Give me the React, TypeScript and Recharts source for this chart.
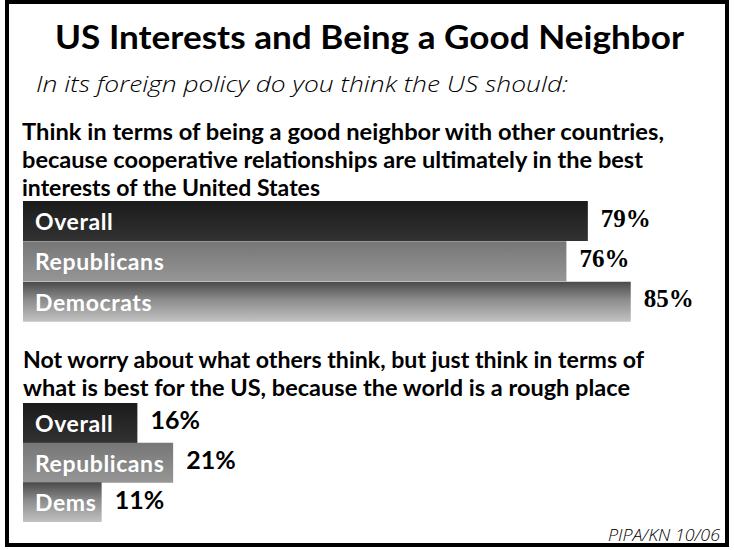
import React from "react";
import { BarChart, Bar, XAxis, YAxis, Cell, LabelList } from "recharts";

const TITLE = "US Interests and Being a Good Neighbor";
const SUBTITLE = "In its foreign policy do you think the US should:";
const QUESTION1 = [
  "Think in terms of being a good neighbor with other countries,",
  "because cooperative relationships are ultimately in the best",
  "interests of the United States",
];
const QUESTION2 = [
  "Not worry about what others think, but just think in terms of",
  "what is best for the US, because the world is a rough place",
];
const SOURCE = "PIPA/KN 10/06";

const groups1 = ["Overall", "Republicans", "Democrats"];
const goodNeighbor = [79, 76, 85];
const groups2 = ["Overall", "Republicans", "Dems"];
const notWorry = [16, 21, 11];

const SANS = "Lato, 'Open Sans', sans-serif";
const SANS2 = "'Open Sans', Lato, sans-serif";
const SERIF = "'Liberation Serif', 'DejaVu Serif', serif";

const Q1_WIDTHS = [642, 621, 298];
const Q2_WIDTHS = [621, 607];

const data1 = groups1.map((name, i) => ({ name, value: goodNeighbor[i] }));
const data2 = groups2.map((name, i) => ({ name, value: notWorry[i] }));

const Gradients = ({ prefix }: { prefix: string }) => (
  <defs>
    <linearGradient id={`${prefix}-dark`} x1="0" y1="0" x2="0" y2="1">
      <stop offset="0%" stopColor="#1b1b1b" />
      <stop offset="100%" stopColor="#323232" />
    </linearGradient>
    <linearGradient id={`${prefix}-mid`} x1="0" y1="0" x2="0" y2="1">
      <stop offset="0%" stopColor="#767676" />
      <stop offset="100%" stopColor="#969696" />
    </linearGradient>
    <linearGradient id={`${prefix}-light`} x1="0" y1="0" x2="0" y2="1">
      <stop offset="0%" stopColor="#4a4a4a" />
      <stop offset="45%" stopColor="#8c8c8c" />
      <stop offset="100%" stopColor="#c2c2c2" />
    </linearGradient>
  </defs>
);

const nameLabel = (props: any) => {
  const { x, y, height, value } = props;
  return (
    <text
      x={x + 12}
      y={y + height / 2 + 3}
      dominantBaseline="middle"
      fill="#ffffff"
      fontFamily={SANS}
      fontWeight={700}
      fontSize={23}
      letterSpacing={0.6}
    >
      {value}
    </text>
  );
};

const makeValueLabel = (family: string, size: number) => (props: any) => {
  const { x, y, width, height, value } = props;
  return (
    <text
      x={x + width + 13}
      y={y + height / 2}
      dominantBaseline="middle"
      fill="#000000"
      fontFamily={family}
      fontWeight={700}
      fontSize={size}
    >
      {`${value}%`}
    </text>
  );
};

const GroupChart = ({
  data,
  prefix,
  height,
  valueFamily,
  valueSize,
}: {
  data: { name: string; value: number }[];
  prefix: string;
  height: number;
  valueFamily: string;
  valueSize: number;
}) => {
  const fills = [`url(#${prefix}-dark)`, `url(#${prefix}-mid)`, `url(#${prefix}-light)`];
  return (
    <BarChart
      width={738}
      height={height}
      data={data}
      layout="vertical"
      margin={{ top: 0, right: 0, bottom: 0, left: 23 }}
      barCategoryGap={0}
    >
      <Gradients prefix={prefix} />
      <XAxis type="number" domain={[0, 100]} hide />
      <YAxis type="category" dataKey="name" hide />
      <Bar dataKey="value" isAnimationActive={false}>
        {data.map((d, i) => (
          <Cell key={d.name} fill={fills[i]} />
        ))}
        <LabelList dataKey="name" content={nameLabel} />
        <LabelList dataKey="value" content={makeValueLabel(valueFamily, valueSize)} />
      </Bar>
    </BarChart>
  );
};

export default function App() {
  return (
    <div
      style={{
        position: "absolute",
        left: 0,
        top: 0,
        width: 734,
        height: 550,
        background: "#fff",
        overflow: "hidden",
      }}
    >
      <svg width={734} height={550} style={{ position: "absolute", left: 0, top: 0 }}>
        <rect x={7} y={2} width={720} height={543} fill="none" stroke="#000" strokeWidth={4} />
        <text
          x={55}
          y={49}
          textLength={629}
          lengthAdjust="spacingAndGlyphs"
          fontFamily={SANS}
          fontWeight={700}
          fontSize={33}
          fill="#000"
        >
          {TITLE}
        </text>
        <text
          x={36}
          y={92}
          textLength={532}
          lengthAdjust="spacingAndGlyphs"
          fontFamily={SANS2}
          fontStyle="italic"
          fontWeight={300}
          fontSize={22}
          fill="#000"
        >
          {SUBTITLE}
        </text>
        {QUESTION1.map((line, i) => (
          <text
            key={i}
            x={22}
            y={140 + i * 28}
            textLength={Q1_WIDTHS[i]}
            lengthAdjust="spacingAndGlyphs"
            fontFamily={SANS}
            fontWeight={700}
            fontSize={22}
            fill="#000"
          >
            {line}
          </text>
        ))}
        {QUESTION2.map((line, i) => (
          <text
            key={i}
            x={23}
            y={368 + i * 28}
            textLength={Q2_WIDTHS[i]}
            lengthAdjust="spacingAndGlyphs"
            fontFamily={SANS}
            fontWeight={700}
            fontSize={22}
            fill="#000"
          >
            {line}
          </text>
        ))}
        <text
          x={608}
          y={541}
          textLength={112}
          lengthAdjust="spacingAndGlyphs"
          fontFamily={SANS2}
          fontStyle="italic"
          fontWeight={300}
          fontSize={16}
          fill="#000"
        >
          {SOURCE}
        </text>
      </svg>
      <div style={{ position: "absolute", left: 0, top: 201 }}>
        <GroupChart data={data1} prefix="g1" height={121} valueFamily={SERIF} valueSize={25} />
      </div>
      <div style={{ position: "absolute", left: 0, top: 403 }}>
        <GroupChart data={data2} prefix="g2" height={119} valueFamily={SANS} valueSize={25} />
      </div>
    </div>
  );
}
